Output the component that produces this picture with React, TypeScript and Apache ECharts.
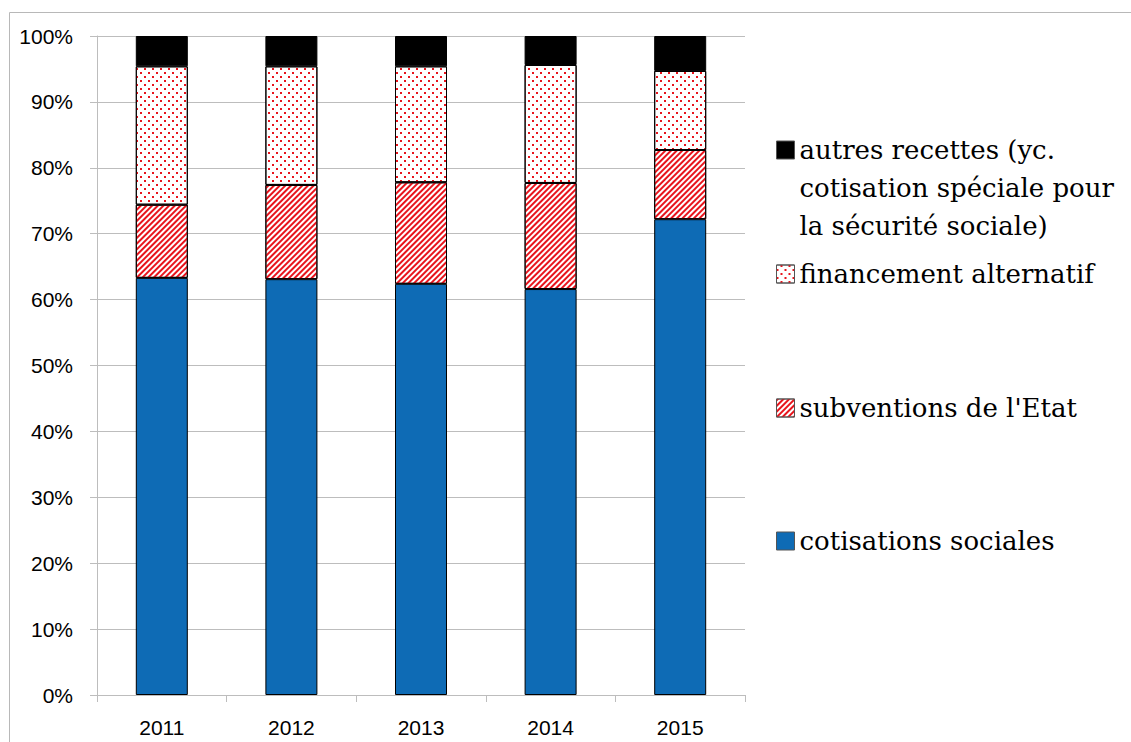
import React, { useEffect, useRef } from "react";
import * as echarts from "echarts";

const years = ["2011", "2012", "2013", "2014", "2015"];
const cotisations = [63.3, 63.1, 62.4, 61.6, 72.2];
const subventions = [11.1, 14.3, 15.4, 16.1, 10.5];
const financement = [21.0, 18.0, 17.6, 17.9, 12.0];
const autres = [4.6, 4.6, 4.6, 4.4, 5.3];
const yTicks = [0, 10, 20, 30, 40, 50, 60, 70, 80, 90, 100];

const nameCot = "cotisations sociales";
const nameSub = "subventions de l'Etat";
const nameFin = "financement alternatif";
const nameAut = "autres recettes (yc. cotisation spéciale pour la sécurité sociale)";

const RED = "#e8141c";
const BLUE = "#0e6bb5";

export default function App() {
  const ref = useRef<HTMLDivElement>(null);
  useEffect(() => {
    if (!ref.current) return;
    const chart = echarts.init(ref.current, null, { renderer: "svg" });
    const legendText = {
      fontFamily: "DejaVu Serif",
      fontSize: 26,
      color: "#000",
      lineHeight: 38,
    };
    const mkLegend = (name: string, top: number, formatter?: any) => ({
      data: [{ name, icon: "rect" }],
      orient: "vertical",
      left: 776,
      top,
      padding: 0,
      itemWidth: 18,
      itemHeight: 18,
      itemGap: 8,
      selectedMode: false,
      itemStyle: { borderColor: "#555", borderWidth: 1 },
      textStyle: legendText,
      formatter,
    });
    const bar = (name: string, data: number[], itemStyle: any) => ({
      name,
      type: "bar",
      stack: "total",
      data,
      barWidth: 52,
      itemStyle: { borderColor: "#000", borderWidth: 1, ...itemStyle },
      emphasis: { disabled: true },
    });
    chart.setOption({
      animation: false,
      grid: { left: 97, top: 36, right: 386, bottom: 47 },
      graphic: [
        {
          type: "rect",
          shape: { x: 9.5, y: 12.5, width: 1200, height: 800 },
          style: { fill: "none", stroke: "#b8b8b8", lineWidth: 1 },
          silent: true,
          z: -10,
        },
      ],
      legend: [
        mkLegend(
          nameAut,
          55,
          () => "\u00a0\n\u00a0\nautres recettes (yc.\ncotisation spéciale pour\nla sécurité sociale)"
        ),
        mkLegend(nameFin, 255),
        mkLegend(nameSub, 389),
        mkLegend(nameCot, 522),
      ],
      xAxis: {
        type: "category",
        data: years,
        axisLine: { lineStyle: { color: "#bdbdbd" } },
        axisTick: { show: true, length: 7, lineStyle: { color: "#bdbdbd" } },
        axisLabel: {
          fontFamily: "Liberation Sans",
          fontSize: 21,
          color: "#000",
          margin: 22,
        },
      },
      yAxis: {
        type: "value",
        min: 0,
        max: 100,
        interval: 10,
        axisLine: { show: true, lineStyle: { color: "#bdbdbd" } },
        axisTick: { show: true, length: 7, lineStyle: { color: "#bdbdbd" } },
        splitLine: { lineStyle: { color: "#bdbdbd" } },
        axisLabel: {
          fontFamily: "Liberation Sans",
          fontSize: 21,
          color: "#000",
          margin: 24,
          formatter: (v: number) => (yTicks.includes(v) ? v + "%" : ""),
        },
      },
      series: [
        bar(nameCot, cotisations, { color: BLUE }),
        bar(nameSub, subventions, {
          color: "#fff",
          decal: {
            symbol: "rect",
            symbolSize: 1,
            color: RED,
            backgroundColor: "#fff",
            dashArrayX: [1, 0],
            dashArrayY: [1.4, 1.6],
            rotation: -Math.PI / 4,
          },
        }),
        bar(nameFin, financement, {
          color: "#fff",
          decal: {
            symbol: "rect",
            symbolSize: 1,
            color: RED,
            backgroundColor: "#fff",
            dashArrayX: [
              [2, 6],
              [0, 4, 2, 2],
            ],
            dashArrayY: [2, 2],
            rotation: 0,
          },
        }),
        bar(nameAut, autres, { color: "#000" }),
      ],
    });
    return () => chart.dispose();
  }, []);
  return (
    <div
      ref={ref}
      style={{ position: "fixed", left: 0, top: 0, width: 1131, height: 742, background: "#fff" }}
    />
  );
}
